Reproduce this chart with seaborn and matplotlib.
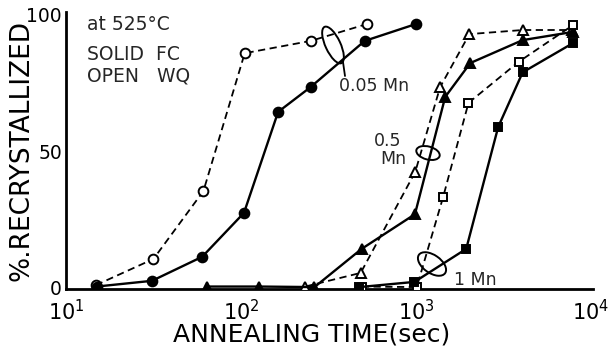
import numpy as np
import pandas as pd
import matplotlib
matplotlib.use("Agg")
import matplotlib.pyplot as plt
import seaborn as sns
from matplotlib.patches import Ellipse
from matplotlib.ticker import FixedLocator

# ---- data (annealing time in s, % recrystallized) ----
t_005_wq = [14.8, 31.6, 61, 105, 250, 525]
p_005_wq = [1.0, 10.6, 35.5, 86, 90.5, 96.7]

t_005_fc = [15, 31, 60, 104, 163, 250, 509, 1000]
p_005_fc = [0.5, 2.6, 11.4, 27.5, 64.5, 73.6, 90.5, 96.7]

t_05_fc = [64, 127, 263, 489, 986, 1469, 2043, 4070, 7890]
p_05_fc = [0.5, 0.5, 0.3, 14.3, 27, 70, 82.4, 90.8, 93.8]

t_05_wq = [233, 483, 990, 1374, 2018, 4070, 7800]
p_05_wq = [0.5, 5.5, 42.5, 73.6, 93, 94.5, 94.5]

t_1_wq = [490, 1010, 1429, 1995, 3855, 7890]
p_1_wq = [0.5, 0.3, 33.3, 67.8, 82.8, 96.3]

t_1_fc = [475, 980, 1936, 2950, 4070, 7890]
p_1_fc = [0.3, 2.2, 14.3, 59, 79, 89.7]

x_ticks = [10, 100, 1000, 10000]
y_ticks = [0, 50, 100]
y_ticklabels = ["0", "50", "100"]

series = [
    (t_005_wq, p_005_wq, "o", False),
    (t_005_fc, p_005_fc, "o", True),
    (t_05_wq, p_05_wq, "^", False),
    (t_05_fc, p_05_fc, "^", True),
    (t_1_wq, p_1_wq, "s", False),
    (t_1_fc, p_1_fc, "s", True),
]

sns.set_theme(style="white")
plt.rcParams["font.family"] = ["DejaVu Sans"]

W, H = 611, 355
fig = plt.figure(figsize=(W / 100, H / 100), dpi=100)
ax = fig.add_axes([66 / W, 1 - 289 / H, (593 - 66) / W, (289 - 12) / H])

for t, p, m, filled in series:
    df = pd.DataFrame({"t": t, "p": p})
    sns.lineplot(
        data=df, x="t", y="p", ax=ax, color="black",
        linewidth=1.7 if filled else 1.3,
        linestyle="-" if filled else (0, (4, 2.5)),
        marker=m, markersize=7 if m != "s" else 6,
        markerfacecolor="black" if filled else "white",
        markeredgecolor="black", markeredgewidth=1.4,
        estimator=None, sort=False, zorder=3,
    )

ax.set_xscale("log")
ax.set_xlim(10, 10 ** (1 + 527 / 175))
ax.set_ylim(-0.4, 100 + 3 / 2.73)
ax.xaxis.set_major_locator(FixedLocator(x_ticks))
ax.xaxis.set_minor_locator(FixedLocator([]))
ax.set_yticks(y_ticks)
ax.set_yticklabels(y_ticklabels)

for s in ["top", "right"]:
    ax.spines[s].set_visible(False)
for s in ["left", "bottom"]:
    ax.spines[s].set_linewidth(2.0)
    ax.spines[s].set_color("black")

ax.tick_params(axis="x", direction="in", length=5, width=1.2, labelsize=15, pad=7, colors="black")
ax.tick_params(axis="y", direction="in", length=5, width=1.2, labelsize=13.5, pad=3, colors="black")

ax.set_xlabel("ANNEALING TIME(sec)", fontsize=18, labelpad=-1, color="black")
ax.xaxis.label.set_x((312 - 66) / 527)
ax.set_ylabel("%.RECRYSTALLIZED", fontsize=19, labelpad=-6, color="black")

# in-plot texts
ax.text(0.04, 0.955, "at 525°C", transform=ax.transAxes, fontsize=13.5, va="center", ha="left")
ax.text(0.04, 0.845, "SOLID  FC", transform=ax.transAxes, fontsize=13.5, va="center", ha="left")
ax.text(0.04, 0.77, "OPEN   WQ", transform=ax.transAxes, fontsize=13.5, va="center", ha="left")

def px(x, y):
    return (x / 100, (H - y) / 100)

tr = fig.dpi_scale_trans
# 0.05 Mn annotation
fig.patches.append(Ellipse(px(333, 45), 0.15, 0.40, angle=25, fill=False, ec="black", lw=1.4, transform=tr))
fig.lines.append(plt.Line2D([3.43, 3.45], [(H - 62) / 100, (H - 76) / 100], color="black", lw=1.3, transform=tr))
fig.text(339 / W, 1 - 86 / H, "0.05 Mn", fontsize=12.5, va="center", ha="left")
# 0.5 Mn annotation
fig.patches.append(Ellipse(px(428, 153), 0.24, 0.13, angle=-15, fill=False, ec="black", lw=1.4, transform=tr))
fig.text(374 / W, 1 - 141 / H, "0.5", fontsize=12.5, va="center", ha="left")
fig.text(380 / W, 1 - 159 / H, "Mn", fontsize=12.5, va="center", ha="left")
# 1 Mn annotation
fig.patches.append(Ellipse(px(432, 264), 0.32, 0.18, angle=-35, fill=False, ec="black", lw=1.4, transform=tr))
fig.text(454 / W, 1 - 280 / H, "1 Mn", fontsize=12.5, va="center", ha="left")

fig.savefig("out.png", dpi=100)
